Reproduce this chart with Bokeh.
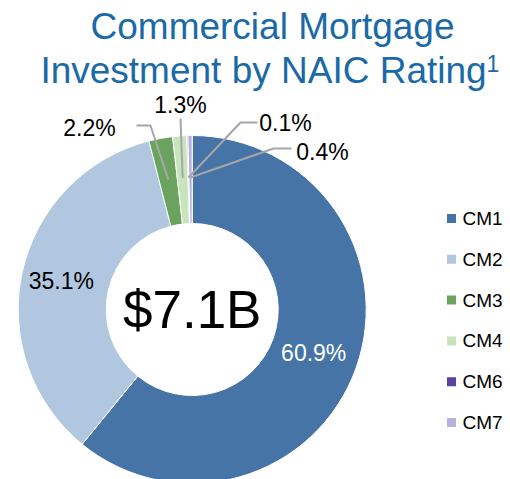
import math
from bokeh.plotting import figure
from bokeh.models import Range1d, ColumnDataSource
from bokeh.core.properties import value
from bokeh.embed import file_html
from bokeh.resources import INLINE

# ---------------- data ----------------
categories = ["CM1", "CM2", "CM3", "CM4", "CM6", "CM7"]
shares = [60.9, 35.1, 2.2, 1.3, 0.1, 0.4]
pct_labels = ["60.9%", "35.1%", "2.2%", "1.3%", "0.1%", "0.4%"]
colors = ["#4674A6", "#B0C7DF", "#6AA35D", "#C8E4BC", "#5A43A0", "#B9B0DC"]
center_text = "$7.1B"
title_lines = ["Commercial Mortgage", "Investment by NAIC Rating"]
title_sup = "1"

# ---------------- layout ----------------
W, H = 510, 479
FONT = "Liberation Sans"
TITLE_COLOR = "#1A6AA8"
LEADER = "#A6A6A6"


def px(x):
    return x


def py(y):
    return H - y


CX, CY = px(191.7), py(309)
R_OUT, R_IN = 174, 86

p = figure(width=W, height=H, x_range=Range1d(0, W), y_range=Range1d(0, H),
           output_backend="svg", toolbar_location=None, min_border=0)
p.axis.visible = False
p.grid.visible = False
p.outline_line_color = None
p.background_fill_color = "white"
p.border_fill_color = "white"

total = sum(shares)
cum = [0.0]
for s in shares:
    cum.append(cum[-1] + s / total)
starts = [math.pi / 2 - 2 * math.pi * c for c in cum[:-1]]
ends = [math.pi / 2 - 2 * math.pi * c for c in cum[1:]]
mids = [(a + b) / 2 for a, b in zip(starts, ends)]

src = ColumnDataSource(dict(cat=categories, start=starts, end=ends, color=colors))
p.annular_wedge(x=CX, y=CY, inner_radius=R_IN, outer_radius=R_OUT,
                start_angle="start", end_angle="end", direction="clock",
                fill_color="color", line_color="white", line_width=1, source=src)

# big labels inside the ring
inside_r = {0: 129, 1: 134}
ix, iy, it, ic = [], [], [], []
for i, r in inside_r.items():
    ix.append(CX + r * math.cos(mids[i]))
    iy.append(CY + r * math.sin(mids[i]))
    it.append(pct_labels[i])
    ic.append("white" if i == 0 else "black")
p.text(x=ix, y=iy, text=it, text_color=ic, text_font=value(FONT),
       text_font_size="23px", text_align="center", text_baseline="middle")

# small slices: leader lines + outside labels (page coords)
outside = {
    2: dict(path=[(150, 125), (136, 125)], label=(89, 127)),
    3: dict(path=[(180, 118)], label=(180, 104)),
    4: dict(path=[(240, 122), (257, 122)], label=(285, 122)),
    5: dict(path=[(273, 148), (291, 148)], label=(322, 151)),
}
R_ANCHOR = 132
for i, d in outside.items():
    xs = [CX + R_ANCHOR * math.cos(mids[i])] + [px(a) for a, b in d["path"]]
    ys = [CY + R_ANCHOR * math.sin(mids[i])] + [py(b) for a, b in d["path"]]
    p.line(xs, ys, line_color=LEADER, line_width=2)
    lx, ly = d["label"]
    p.text(x=[px(lx)], y=[py(ly)], text=[pct_labels[i]], text_color="black",
           text_font=value(FONT), text_font_size="23px",
           text_align="center", text_baseline="middle")

# center total
p.text(x=[CX], y=[CY], text=[center_text], text_color="black", text_font=value(FONT),
       text_font_size="53px", text_align="center", text_baseline="middle")

# title
p.text(x=[px(272), px(263)], y=[py(26), py(70)], text=title_lines, text_color=TITLE_COLOR,
       text_font=value(FONT), text_font_size="37px", text_align="center",
       text_baseline="middle")
p.text(x=[px(486)], y=[py(63)], text=[title_sup], text_color=TITLE_COLOR,
       text_font=value(FONT), text_font_size="23px", text_align="left",
       text_baseline="middle")

# legend
LEG_X, LEG_Y0, LEG_DY, SQ = 451, 218, 40.8, 9
lgx = [px(LEG_X)] * len(categories)
lgy = [py(LEG_Y0 + k * LEG_DY) for k in range(len(categories))]
p.rect(x=lgx, y=lgy, width=SQ, height=SQ, fill_color=colors, line_color=None)
p.text(x=[px(LEG_X + 11)] * len(categories), y=lgy, text=categories, text_color="black",
       text_font=value(FONT), text_font_size="19px", text_align="left",
       text_baseline="middle")

open("out.html", "w").write(file_html(p, INLINE))
